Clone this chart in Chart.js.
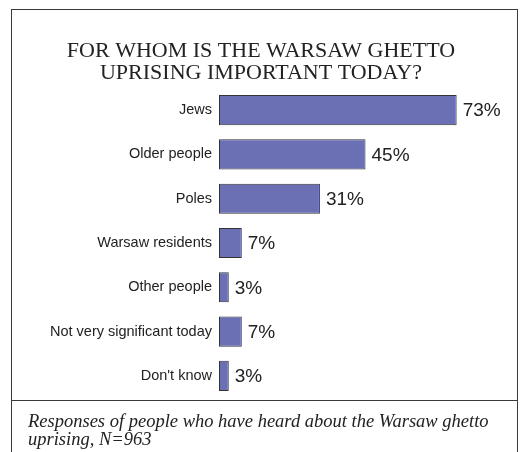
<!DOCTYPE html>
<html>
<head>
<meta charset="utf-8">
<script src="https://cdn.jsdelivr.net/npm/chart.js@4/dist/chart.umd.min.js"></script>
<style>
  html, body { margin: 0; padding: 0; background: #ffffff; }
  #wrap { width: 523px; height: 452px; }
</style>
</head>
<body>
<div id="wrap"><canvas id="c" width="523" height="452"></canvas></div>
<script>
// Survey answers: share of respondents (%)
const categories = [
  "Jews",
  "Older people",
  "Poles",
  "Warsaw residents",
  "Other people",
  "Not very significant today",
  "Don't know"
];
const shares = [73, 45, 31, 7, 3, 7, 3];

const titleLines = ["FOR WHOM IS THE WARSAW GHETTO", "UPRISING IMPORTANT TODAY?"];
const noteLines = ["Responses of people who have heard about the Warsaw ghetto", "uprising, N=963"];

// Frame, heading and note around the plot
const framePlugin = {
  id: 'frame',
  beforeDraw(chart) {
    const ctx = chart.ctx;
    ctx.save();
    ctx.fillStyle = '#ffffff';
    ctx.fillRect(0, 0, chart.width, chart.height);
    ctx.strokeStyle = '#3a3a3a';
    ctx.lineWidth = 1;
    ctx.strokeRect(11.5, 9.5, 506, 460);
    ctx.beginPath();
    ctx.moveTo(11.5, 400.5);
    ctx.lineTo(517.5, 400.5);
    ctx.stroke();
    ctx.restore();
  },
  afterDraw(chart) {
    const ctx = chart.ctx;
    ctx.save();
    ctx.fillStyle = '#222222';
    ctx.textAlign = 'center';
    ctx.textBaseline = 'alphabetic';
    ctx.font = '22px "Liberation Serif", "Times New Roman", serif';
    titleLines.forEach((t, i) => ctx.fillText(t, 261, 57 + i * 21.5));
    ctx.textAlign = 'left';
    ctx.font = 'italic 18.5px "Liberation Serif", "Times New Roman", serif';
    noteLines.forEach((t, i) => ctx.fillText(t, 28, 427 + i * 17.5));
    ctx.restore();
  }
};

// Percentage labels at the end of each bar
const valueLabels = {
  id: 'valueLabels',
  afterDatasetsDraw(chart) {
    const ctx = chart.ctx;
    const meta = chart.getDatasetMeta(0);
    ctx.save();
    ctx.fillStyle = '#222222';
    ctx.font = '19px "Liberation Sans", Arial, sans-serif';
    ctx.textAlign = 'left';
    ctx.textBaseline = 'middle';
    meta.data.forEach((bar, i) => {
      ctx.fillText(shares[i] + '%', bar.x + 6, bar.y + 1);
    });
    ctx.restore();
  }
};

new Chart(document.getElementById('c'), {
  type: 'bar',
  data: {
    labels: categories,
    datasets: [{
      data: shares,
      backgroundColor: '#6b70b5',
      borderColor: '#333333',
      borderWidth: 1,
      borderSkipped: false,
      categoryPercentage: 1,
      barPercentage: 0.68
    }]
  },
  options: {
    indexAxis: 'y',
    responsive: false,
    animation: false,
    devicePixelRatio: 1,
    layout: { padding: { top: 88, bottom: 54, left: 0, right: 11 } },
    plugins: { legend: { display: false }, tooltip: { enabled: false } },
    scales: {
      x: { display: false, min: 0, max: 90 },
      y: {
        afterFit(scale) { scale.width = 219; },
        border: { display: false },
        grid: { display: false, drawTicks: false },
        ticks: {
          padding: 7,
          color: '#222222',
          font: { family: '"Liberation Sans", Arial, sans-serif', size: 14.5 }
        }
      }
    }
  },
  plugins: [framePlugin, valueLabels]
});
</script>
</body>
</html>
